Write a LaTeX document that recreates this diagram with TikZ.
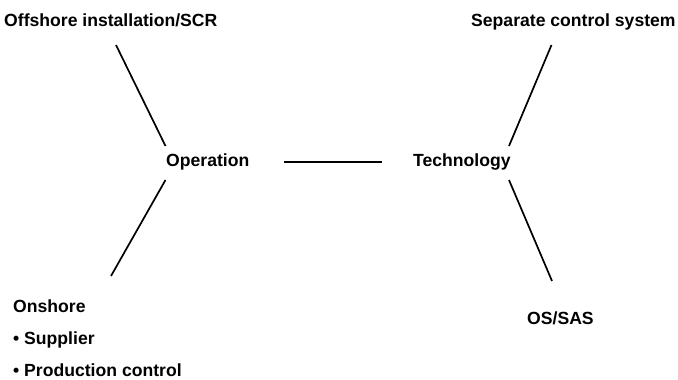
\documentclass[tikz,border=0pt]{standalone}
\usepackage{fontspec}
\setmainfont{Liberation Sans}
\begin{document}
\begin{tikzpicture}[x=1pt,y=1pt,
  label/.style={anchor=base west,inner sep=0pt,font=\fontsize{17.6}{20}\selectfont\bfseries},
  link/.style={line width=1.7pt,black}]
\useasboundingbox (0,0) rectangle (678,380);
% text labels (baselines measured from the top edge)
\node[label] (off)  at (4,380-27)   {Offshore installation/SCR};
\node[label] (sep)  at (471,380-27) {Separate control system};
\node[label] (op)   at (166,380-167) {Operation};
\node[label] (tech) at (413,380-167) {Technology};
\node[label] (on)   at (13,380-313) {Onshore};
\node[label] (sup)  at (13,380-345) {• Supplier};
\node[label] (prod) at (13,380-377) {• Production control};
\node[label] (os)   at (527,380-325) {OS/SAS};
% connector end points
\coordinate (a1) at (116,380-45);  \coordinate (a2) at (165.5,380-146);
\coordinate (b1) at (165.5,380-180); \coordinate (b2) at (111,380-276);
\coordinate (c1) at (284,380-162); \coordinate (c2) at (382,380-162);
\coordinate (d1) at (551.5,380-45); \coordinate (d2) at (509,380-146);
\coordinate (e1) at (509,380-180); \coordinate (e2) at (552,380-281);
\draw[link] (a1) -- (a2);
\draw[link] (b1) -- (b2);
\draw[link] (c1) -- (c2);
\draw[link] (d1) -- (d2);
\draw[link] (e1) -- (e2);
\end{tikzpicture}
\end{document}
